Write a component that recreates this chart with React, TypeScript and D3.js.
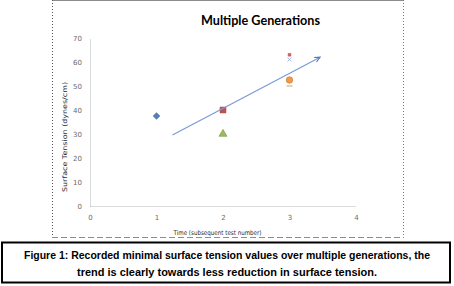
import React, { useRef, useEffect } from 'react';
import * as d3 from 'd3';

// values
const testNumber = [1, 2, 2, 3, 3, 3, 3];
const tension = [37.5, 40, 30, 63, 61, 52.5, 50];
const markerKind = ['diamond', 'square', 'triangle', 'square', 'x', 'circle', 'dash'];
const markerColor = ['#4F81BD', '#C0504D', '#9BBB59', '#E06060', '#9AA6D6', '#F79646', '#C8B98A'];
const markerSize = [22, 34, 28, 7, 12, 34, 0];

const xTicks = [0, 1, 2, 3, 4];
const yTicks = [0, 10, 20, 30, 40, 50, 60, 70];

const trendX = [1.24, 3.46];
const trendY = [29.6, 62];

const title = 'Multiple Generations';
const xLabel = 'Time (subsequent test number)';
const yLabel = 'Surface Tension (dynes/cm)';
const caption = [
  'Figure 1: Recorded minimal surface tension values over multiple generations, the',
  'trend is clearly towards less reduction in surface tension.',
];

const App = () => {
  const svgRef = useRef<SVGSVGElement>(null);

  useEffect(() => {
    const svg = d3.select(svgRef.current);
    svg.selectAll('*').remove();

    const x = d3.scaleLinear().domain([0, 4]).range([90, 356]);
    const y = d3.scaleLinear().domain([0, 70]).range([206, 38]);

    // chart frame
    svg.append('line').attr('x1', 52).attr('x2', 403).attr('y1', 0.5).attr('y2', 0.5)
      .attr('stroke', '#8c8c8c').attr('stroke-width', 1);
    svg.append('line').attr('x1', 52.5).attr('x2', 52.5).attr('y1', 0).attr('y2', 237)
      .attr('stroke', '#555').attr('stroke-dasharray', '1,2');
    svg.append('line').attr('x1', 403.5).attr('x2', 403.5).attr('y1', 0).attr('y2', 237)
      .attr('stroke', '#777').attr('stroke-dasharray', '1,2');
    svg.append('line').attr('x1', 52).attr('x2', 404).attr('y1', 237.5).attr('y2', 237.5)
      .attr('stroke', '#8c8c8c').attr('stroke-dasharray', '6,3');

    // title
    svg.append('text')
      .attr('x', 260.5).attr('y', 25)
      .attr('text-anchor', 'middle')
      .attr('font-family', 'Lato, "Open Sans", sans-serif')
      .attr('font-weight', 'bold')
      .attr('font-size', 13)
      .attr('textLength', 119)
      .attr('lengthAdjust', 'spacingAndGlyphs')
      .attr('fill', '#000')
      .text(title);

    // axes
    const yAxis = svg.append('g')
      .attr('transform', 'translate(90,0)')
      .call(d3.axisLeft(y).tickValues(yTicks).tickSize(0).tickPadding(8).tickFormat(d3.format('d')));
    const xAxis = svg.append('g')
      .attr('transform', 'translate(0,206)')
      .call(d3.axisBottom(x).tickValues(xTicks).tickSize(0).tickPadding(9).tickFormat(d3.format('d')));

    [xAxis, yAxis].forEach(g => {
      g.select('.domain').attr('stroke', '#b5b5b5').attr('stroke-dasharray', '1,1');
      g.selectAll('text')
        .attr('font-family', '"DejaVu Sans", sans-serif')
        .attr('font-size', 7)
        .attr('fill', '#6a6a6a');
    });

    // axis titles
    svg.append('text')
      .attr('x', 217.5).attr('y', 234.5)
      .attr('text-anchor', 'middle')
      .attr('font-family', '"DejaVu Sans", sans-serif')
      .attr('font-size', 6.5)
      .attr('textLength', 88)
      .attr('lengthAdjust', 'spacingAndGlyphs')
      .attr('fill', '#2a2a2a')
      .text(xLabel);

    svg.append('text')
      .attr('transform', 'translate(67,137) rotate(-90)')
      .attr('text-anchor', 'middle')
      .attr('font-family', '"DejaVu Sans", sans-serif')
      .attr('font-size', 6.5)
      .attr('textLength', 110)
      .attr('lengthAdjust', 'spacingAndGlyphs')
      .attr('fill', '#2a2a2a')
      .text(yLabel);

    // markers
    const shapes: Record<string, d3.SymbolType> = {
      diamond: d3.symbolSquare,
      square: d3.symbolSquare,
      triangle: d3.symbolTriangle,
      x: d3.symbolX,
      circle: d3.symbolCircle,
    };

    testNumber.forEach((t, i) => {
      const cx = x(t);
      const cy = y(tension[i]);
      const kind = markerKind[i];
      if (kind === 'dash') {
        svg.append('line')
          .attr('x1', cx - 3).attr('x2', cx + 3)
          .attr('y1', cy).attr('y2', cy)
          .attr('stroke', markerColor[i]).attr('stroke-width', 1.2);
        return;
      }
      const rot = kind === 'diamond' ? ' rotate(45)' : '';
      const path = svg.append('path')
        .attr('transform', `translate(${cx},${cy})${rot}`)
        .attr('d', d3.symbol().type(shapes[kind]).size(markerSize[i])());
      if (kind === 'x') {
        path.attr('fill', 'none').attr('stroke', markerColor[i]).attr('stroke-width', 0.8);
      } else {
        path.attr('fill', markerColor[i])
          .attr('stroke', d3.color(markerColor[i])!.darker(0.6).toString())
          .attr('stroke-width', 0.6);
      }
    });

    // trend arrow
    const x1 = x(trendX[0]), y1 = y(trendY[0]);
    const x2 = x(trendX[1]), y2 = y(trendY[1]);
    svg.append('line')
      .attr('x1', x1).attr('y1', y1).attr('x2', x2).attr('y2', y2)
      .attr('stroke', '#7b9ad6').attr('stroke-width', 1.2);
    const ang = Math.atan2(y2 - y1, x2 - x1);
    const head = 6;
    const pts = [ang + 2.7, ang - 2.7].map(a => [x2 + head * Math.cos(a), y2 + head * Math.sin(a)]);
    svg.append('path')
      .attr('d', `M${pts[0][0]},${pts[0][1]}L${x2},${y2}L${pts[1][0]},${pts[1][1]}`)
      .attr('fill', 'none').attr('stroke', '#4f78c4').attr('stroke-width', 1.1);

    // caption box
    svg.append('rect')
      .attr('x', 2).attr('y', 242.5).attr('width', 448).attr('height', 40)
      .attr('fill', '#fff').attr('stroke', '#000').attr('stroke-width', 2);

    const capWidths = [406, 300];
    caption.forEach((line, i) => {
      svg.append('text')
        .attr('x', 227).attr('y', 259 + i * 17)
        .attr('text-anchor', 'middle')
        .attr('font-family', '"Liberation Sans", Arial, sans-serif')
        .attr('font-weight', 'bold')
        .attr('font-size', 10.5)
        .attr('textLength', capWidths[i])
        .attr('lengthAdjust', 'spacingAndGlyphs')
        .attr('fill', '#000')
        .text(line);
    });
  }, []);

  return (
    <svg
      ref={svgRef}
      width="454"
      height="286"
      style={{ position: 'absolute', left: 0, top: 0, background: '#fff' }}
    ></svg>
  );
};

export default App;
